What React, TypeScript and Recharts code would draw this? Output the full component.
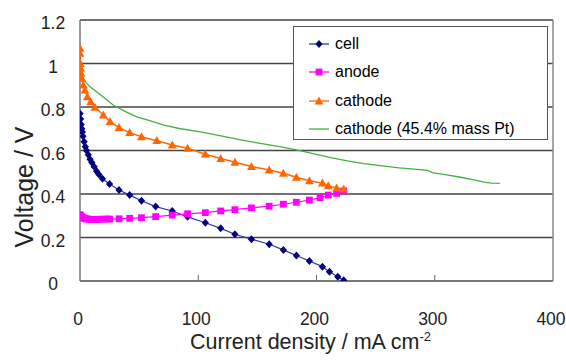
import { LineChart, Line, XAxis, YAxis, CartesianGrid, Legend, ReferenceLine } from "recharts";

const FONT = "'Liberation Sans', Arial, Helvetica, sans-serif";

// current density (mA cm-2), voltage (V)
const cellPoints = [
  [0, 0.77], [0.5, 0.745], [1, 0.72], [1.5, 0.7], [2, 0.685], [2.5, 0.665], [3.5, 0.64],
  [4.5, 0.617], [5.5, 0.6], [7, 0.58], [8.5, 0.56], [10, 0.545], [12, 0.525], [14, 0.505],
  [16, 0.49], [19, 0.47], [25, 0.446], [33, 0.418], [42, 0.395], [52, 0.369], [64, 0.342],
  [78, 0.322], [91, 0.295], [106, 0.268], [119, 0.242], [131, 0.215], [145, 0.192],
  [160, 0.169], [172, 0.143], [183, 0.117], [194, 0.092], [205, 0.066], [211, 0.042],
  [218, 0.02], [223, 0.003],
];

const anodePoints = [
  [0, 0.305], [0.5, 0.3], [1, 0.297], [2, 0.293], [3, 0.29], [4, 0.288], [5, 0.286],
  [6, 0.285], [8, 0.284], [10, 0.283], [12, 0.283], [14, 0.283], [16, 0.284], [19, 0.284],
  [22, 0.285], [25, 0.285], [33, 0.286], [42, 0.288], [52, 0.291], [64, 0.296], [78, 0.303],
  [91, 0.309], [106, 0.314], [119, 0.322], [131, 0.328], [145, 0.336], [160, 0.344],
  [172, 0.353], [183, 0.362], [194, 0.372], [203, 0.383], [210, 0.395], [217, 0.403],
  [223, 0.414],
];

const cathodePoints = [
  [0, 1.07], [0, 1.047], [0.3, 1.0], [0.5, 0.978], [0.8, 0.955], [1.5, 0.932], [2.8, 0.901],
  [4.2, 0.878], [6.2, 0.847], [9, 0.824], [12.7, 0.798], [19.8, 0.763], [25.4, 0.733],
  [33, 0.705], [42, 0.682], [52, 0.663], [65, 0.645], [78, 0.625], [91, 0.61], [106, 0.583],
  [119, 0.563], [131, 0.546], [145, 0.526], [160, 0.51], [172, 0.495], [183, 0.477],
  [194, 0.461], [205, 0.45], [210, 0.438], [217, 0.427], [223, 0.422],
];

const cathodePtPoints = [
  [1, 0.945], [4, 0.92], [8, 0.895], [14, 0.87], [20, 0.845], [28, 0.809], [38, 0.78],
  [48, 0.755], [59, 0.737], [71, 0.717], [85, 0.7], [102, 0.686], [116, 0.671], [135, 0.65],
  [150, 0.635], [170, 0.617], [184, 0.602], [198, 0.585], [212, 0.567], [226, 0.552],
  [240, 0.54], [254, 0.53], [270, 0.52], [285, 0.513], [294, 0.509], [298, 0.498],
  [310, 0.488], [322, 0.477], [332, 0.466], [342, 0.455], [348, 0.45], [355, 0.449],
];

const xTicks = [0, 100, 200, 300, 400];
const yTicks = [0, 0.2, 0.4, 0.6, 0.8, 1.0, 1.2];

const toRows = (pts: number[][]) => pts.map(([x, v]) => ({ x, v }));

type Marker = "diamond" | "square" | "triangle" | "none";

const series = [
  { name: "cell", data: toRows(cellPoints), stroke: "#3038a0", fill: "#000080", marker: "diamond" as Marker, width: 1.2 },
  { name: "anode", data: toRows(anodePoints), stroke: "#ff00ff", fill: "#ff00ff", marker: "square" as Marker, width: 1.2 },
  { name: "cathode", data: toRows(cathodePoints), stroke: "#ff6600", fill: "#ff6600", marker: "triangle" as Marker, width: 1.5 },
  { name: "cathode (45.4% mass Pt)", data: toRows(cathodePtPoints), stroke: "#44b044", fill: "#44b044", marker: "none" as Marker, width: 1.3 },
];

function markerPath(kind: Marker, cx: number, cy: number) {
  if (kind === "diamond") return `M${cx},${cy - 4}L${cx + 3.6},${cy}L${cx},${cy + 4}L${cx - 3.6},${cy}Z`;
  if (kind === "square") return `M${cx - 3.4},${cy - 3.4}h6.8v6.8h-6.8Z`;
  if (kind === "triangle") return `M${cx},${cy - 4.6}L${cx + 4.4},${cy + 3.4}L${cx - 4.4},${cy + 3.4}Z`;
  return "";
}

function makeDot(kind: Marker, fill: string) {
  return (p: any) => {
    if (p.cx == null || p.cy == null) return <g key={p.index} />;
    return <path key={p.index} d={markerPath(kind, p.cx, p.cy)} fill={fill} />;
  };
}

function XTick({ x, y, payload }: any) {
  return (
    <g>
      {payload.value > 0 && payload.value < 400 && (
        <line x1={x} x2={x} y1={y} y2={y - 6} stroke="#666" strokeWidth={1} />
      )}
      <text x={x - 2} y={y + 44} textAnchor="middle" fontSize={17.5} fontFamily={FONT} fill="#222">
        {payload.value}
      </text>
    </g>
  );
}

function YTick({ x, y, payload }: any) {
  const v = payload.value;
  const label = v === 0 || v === 1 ? String(v) : v.toFixed(1);
  return (
    <text x={x - 27} y={y + 9} textAnchor="middle" fontSize={17.5} fontFamily={FONT} fill="#222">
      {label}
    </text>
  );
}

function LegendBox() {
  return (
    <div
      style={{
        position: "relative",
        width: 255,
        height: 114,
        boxSizing: "border-box",
        border: "1px solid #555",
        background: "#fff",
        fontFamily: FONT,
        fontSize: 16,
        color: "#000",
      }}
    >
      {series.map((s, i) => (
        <div
          key={s.name}
          style={{ position: "absolute", left: 14, top: 16.7 + i * 28.5 - 11, height: 22, display: "flex", alignItems: "center" }}
        >
          <svg width={22} height={12} style={{ marginRight: 5 }}>
            <line x1={1} x2={21} y1={6} y2={6} stroke={s.stroke} strokeWidth={1.3} />
            {s.marker !== "none" && <path d={markerPath(s.marker, 11, 6)} fill={s.fill} />}
          </svg>
          <span style={{ whiteSpace: "nowrap", lineHeight: "22px" }}>{s.name}</span>
        </div>
      ))}
    </div>
  );
}

export default function App() {
  return (
    <div style={{ width: 566, height: 360, background: "#fff" }}>
      <style>{"body{margin:0}"}</style>
      <LineChart width={566} height={360} margin={{ top: 20, right: 13, bottom: 0, left: 0 }}>
        <CartesianGrid vertical={false} horizontal stroke="#444" strokeWidth={1.4} />
        <XAxis
          type="number"
          dataKey="x"
          domain={[0, 400]}
          ticks={xTicks}
          allowDataOverflow
          height={79}
          axisLine={{ stroke: "#7a7a7a", strokeWidth: 1.5 }}
          tickLine={false}
          tickSize={0}
          tickMargin={0}
          tick={<XTick />}
          label={{
            content: () => (
              <text x={190} y={349} fontSize={21.5} fontFamily={FONT} fill="#222">
                Current density / mA cm
                <tspan dy={-8} fontSize={13}>-2</tspan>
              </text>
            ),
          }}
        />
        <YAxis
          type="number"
          domain={[0, 1.2]}
          ticks={yTicks}
          allowDataOverflow
          width={80}
          axisLine={{ stroke: "#7a7a7a", strokeWidth: 1.5 }}
          tickLine={false}
          tickSize={0}
          tickMargin={0}
          tick={<YTick />}
          label={{
            content: () => (
              <text
                x={33}
                y={187}
                transform="rotate(-90 33 187)"
                textAnchor="middle"
                fontSize={25}
                fontFamily={FONT}
                fill="#222"
              >
                Voltage / V
              </text>
            ),
          }}
        />
        <ReferenceLine x={400} stroke="#8a8a8a" strokeWidth={1.5} />
        {series.map((s) => (
          <Line
            key={s.name}
            data={s.data}
            dataKey="v"
            name={s.name}
            type="linear"
            stroke={s.stroke}
            strokeWidth={s.width}
            dot={s.marker === "none" ? false : makeDot(s.marker, s.fill)}
            activeDot={false}
            isAnimationActive={false}
          />
        ))}
        <Legend
          layout="vertical"
          align="center"
          verticalAlign="middle"
          content={() => <LegendBox />}
          wrapperStyle={{ left: 293, top: 26, width: 255, height: 114 }}
        />
      </LineChart>
    </div>
  );
}
